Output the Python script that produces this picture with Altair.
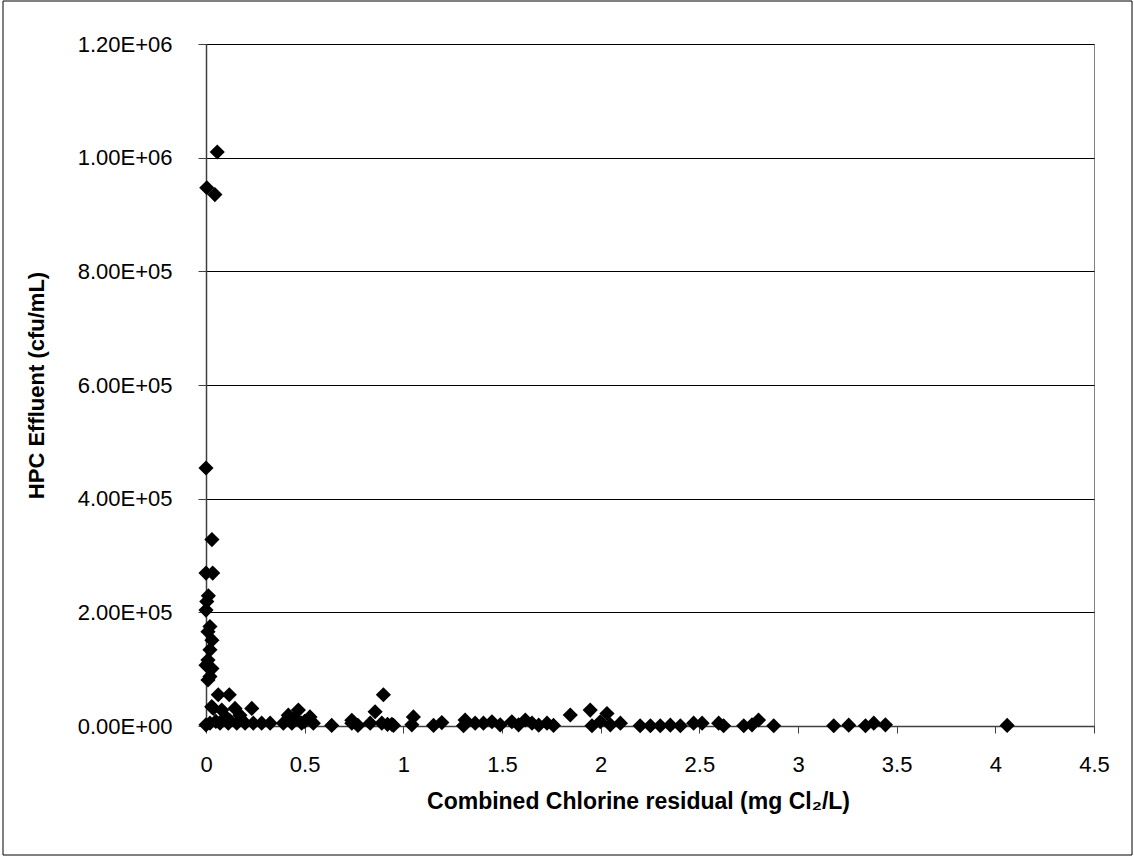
import altair as alt
import pandas as pd

# Combined chlorine residual (mg Cl2/L)
chlorine = [
    0.057, 0.004, 0.045, 0.0, 0.030, 0.0, 0.034, 0.012, 0.004, 0.0,
    0.020, 0.010, 0.030, 0.020, 0.010, 0.0, 0.030, 0.020, 0.010, 0.062,
    0.118, 0.899, 0.029, 0.080, 0.037, 0.147, 0.232, 0.468, 0.857, 0.100,
    0.172, 0.417, 0.527, 0.451, 0.739,
    0.020, 0.071, 0.113, 0.156, 0.198, 0.240, 0.282, 0.325, 0.392, 0.435,
    0.485, 0.544, 0.637, 0.739, 0.832, 0.891, 0.942, 0.0, 0.050, 0.120,
    0.500, 0.770, 0.920,
    0.950, 1.051, 1.043, 1.153, 1.195, 1.313, 1.305, 1.364, 1.406, 1.449,
    1.491, 1.550, 1.584, 1.618, 1.652, 1.686, 1.728, 1.761, 1.846, 1.947,
    1.956, 1.998, 2.032, 2.049, 2.100, 2.200, 2.252, 2.302, 2.353, 2.404,
    2.471, 2.514, 2.598, 2.623, 2.725, 2.767, 2.800, 2.877, 3.181, 3.257,
    3.342, 3.384, 3.443, 4.060,
]
# HPC effluent (cfu/mL)
hpc = [
    1010000, 947000, 935000, 454000, 328000, 269000, 269000, 229000, 219000, 204000,
    175000, 166000, 151000, 134000, 116000, 107000, 101000, 87000, 81000, 55000,
    55000, 55000, 34000, 28000, 31000, 31000, 31000, 28000, 25000, 16000,
    19000, 19000, 16000, 14000, 10000,
    5000, 5000, 5000, 5000, 5000, 5000, 5000, 5000, 5000, 5000,
    5000, 5000, 1000, 5000, 5000, 5000, 3000, 2000, 8000, 10000,
    8000, 1000, 3000,
    1000, 16000, 2000, 1000, 6000, 10500, 500, 5000, 5000, 7500,
    2000, 7500, 2000, 10500, 5000, 1500, 5000, 1000, 19400, 28000,
    500, 7500, 22000, 2000, 5000, 500, 500, 500, 1500, 500,
    5000, 5000, 5000, 500, 500, 2000, 10500, 500, 500, 1500,
    500, 5000, 2000, 1000,
]

x_ticks = [0, 0.5, 1, 1.5, 2, 2.5, 3, 3.5, 4, 4.5]
y_ticks = [0, 200000, 400000, 600000, 800000, 1000000, 1200000]

df = pd.DataFrame({"chlorine": chlorine, "hpc": hpc})

FONT = "Liberation Sans"

points = alt.Chart(df).mark_point(
    shape="diamond", filled=True, color="black", size=230, opacity=1
).encode(
    x=alt.X(
        "chlorine:Q",
        scale=alt.Scale(domain=[0, 4.5], nice=False, zero=False),
        axis=alt.Axis(
            values=x_ticks,
            title="Combined Chlorine residual (mg Cl₂/L)",
            grid=False,
            labelFlush=False,
            labelExpr="format(datum.value, '~g')",
            tickSize=7,
            labelPadding=21,
            titlePadding=15,
            titleFontSize=23,
            titleX=432,
        ),
    ),
    y=alt.Y(
        "hpc:Q",
        scale=alt.Scale(domain=[0, 1200000], nice=False),
        axis=alt.Axis(
            values=y_ticks,
            title="HPC Effluent (cfu/mL)",
            grid=True,
            labelExpr="datum.value == 0 ? '0.00E+00' : format(datum.value / pow(10, floor(log(datum.value) / LN10 + 1e-9)), '.2f') + 'E+0' + floor(log(datum.value) / LN10 + 1e-9)",
            tickSize=8,
            labelPadding=26,
            titlePadding=29,
        ),
    ),
)

frame = alt.Chart(alt.Data(values=[{}])).mark_rect(
    fill=None, stroke="black", strokeWidth=1
).encode(
    x=alt.value(-203),
    x2=alt.value(926),
    y=alt.value(-43),
    y2=alt.value(811),
)

chart = alt.layer(points, frame).properties(
    width=888,
    height=682,
    autosize=alt.AutoSizeParams(type="none"),
    padding={"left": 206, "top": 44, "right": 40, "bottom": 130},
    background="white",
).configure_view(
    stroke="#808080", strokeWidth=1
).configure_axis(
    labelFont=FONT,
    titleFont=FONT,
    labelFontSize=22,
    titleFontSize=22,
    titleFontWeight="bold",
    labelColor="black",
    titleColor="black",
    domainColor="#404040",
    domainWidth=1.5,
    tickColor="#404040",
    gridColor="black",
    gridWidth=1,
    gridOpacity=1,
)

chart.save("out.html", embed_options={"renderer": "svg", "actions": False})
